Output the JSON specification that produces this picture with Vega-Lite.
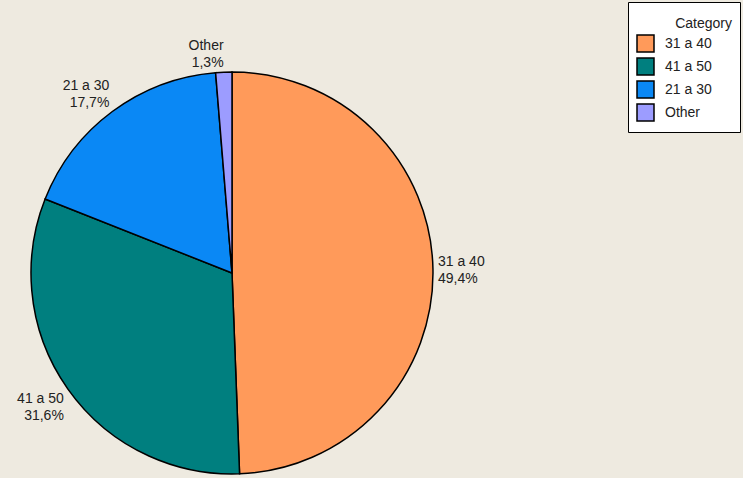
{
  "$schema": "https://vega.github.io/schema/vega-lite/v6.json",
  "width": 402,
  "height": 402,
  "autosize": {"type": "none"},
  "padding": {"left": 31, "top": 72, "right": 310, "bottom": 4},
  "background": "#EEEAE0",
  "config": {"view": {"stroke": null}, "font": "Liberation Sans"},
  "data": {
    "values": [
      {"Category": "31 a 40", "Percent": 49.4, "idx": 1},
      {"Category": "41 a 50", "Percent": 31.6, "idx": 2},
      {"Category": "21 a 30", "Percent": 17.7, "idx": 3},
      {"Category": "Other", "Percent": 1.3, "idx": 4}
    ]
  },
  "transform": [
    {"calculate": "datum.Category + '\\n' + replace(format(datum.Percent, '.1f'), '.', ',') + '%'", "as": "label"}
  ],
  "encoding": {
    "theta": {"field": "Percent", "type": "quantitative", "stack": true},
    "order": {"field": "idx", "type": "quantitative"}
  },
  "layer": [
    {
      "mark": {"type": "arc", "outerRadius": 201, "stroke": "black", "strokeWidth": 1.5},
      "encoding": {
        "color": {
          "field": "Category",
          "type": "nominal",
          "sort": ["31 a 40", "41 a 50", "21 a 30", "Other"],
          "scale": {
            "domain": ["31 a 40", "41 a 50", "21 a 30", "Other"],
            "range": ["#FF9A5A", "#007F7F", "#0A88F5", "#9C9CFF"]
          },
          "legend": {
            "title": ["", "Category"],
            "orient": "none",
            "legendX": 597,
            "legendY": -70,
            "fillColor": "white",
            "strokeColor": "black",
            "padding": 8,
            "symbolType": "square",
            "symbolSize": 289,
            "symbolStrokeColor": "black",
            "symbolStrokeWidth": 1.5,
            "labelFontSize": 14,
            "titleFontSize": 14,
            "titleFontWeight": "normal",
            "titleColor": "#222",
            "labelColor": "#222",
            "titleAnchor": "end",
            "titleLineHeight": 7,
            "titlePadding": 3,
            "rowPadding": 0,
            "labelOffset": 10,
            "labelExpr": "datum.label + '\u2800\u2800'"
          }
        }
      }
    },
    {
      "mark": {
        "type": "text",
        "radius": 206,
        "fontSize": 14,
        "lineBreak": "\n",
        "lineHeight": 17,
        "fill": "#222",
        "baseline": "top",
        "dy": {"expr": "datum.Category == '41 a 50' ? 0 : (datum.Category == '31 a 40' ? -14 : -28)"},
        "align": {"expr": "datum.Category == '31 a 40' ? 'left' : 'right'"}
      },
      "encoding": {
        "text": {"field": "label"},
        "detail": {"field": "Category"}
      }
    }
  ]
}
